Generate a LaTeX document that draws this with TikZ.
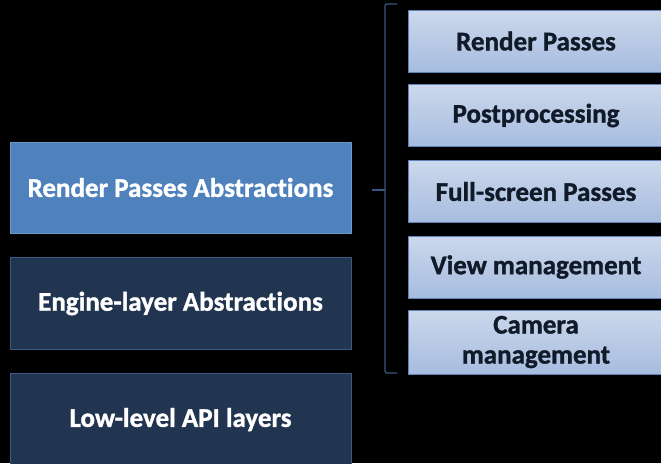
\documentclass[tikz,border=0pt]{standalone}
\usepackage{fontspec}
\setmainfont{Carlito}[Ligatures=NoCommon,BoldFeatures={FakeBold=1.2}]
\begin{document}
\begin{tikzpicture}[x=1pt,y=-1pt,
  every node/.style={font=\bfseries\fontsize{27}{30}\selectfont, align=center, inner sep=0pt},
  lightbox/.style={draw=lightedge, line width=1pt, fill=midblue, text=white, minimum width=341pt, minimum height=91pt},
  darkbox/.style={draw=darkedge, line width=1pt, fill=darkblue, text=white, minimum width=341pt, minimum height=92pt},
  subbox/.style={draw=subedge, line width=1pt, top color=subtop, bottom color=subbot, text=subtext, minimum width=256pt, minimum height=62pt},
  bracketline/.style={draw=bracketcol, line width=1.2pt, rounded corners=2pt}
]
\definecolor{midblue}{HTML}{4F81BD}
\definecolor{lightedge}{HTML}{7196C8}
\definecolor{darkblue}{HTML}{213550}
\definecolor{darkedge}{HTML}{3B5A82}
\definecolor{subtop}{HTML}{CCD8EC}
\definecolor{subbot}{HTML}{A6BCDF}
\definecolor{subedge}{HTML}{5F82B5}
\definecolor{subtext}{HTML}{111A28}
\definecolor{bracketcol}{HTML}{3A5680}
\useasboundingbox[fill=black] (0,0) rectangle (661,463);
\node[lightbox] (rpa) at (180.5,187.5) {Render Passes Abstractions};
\node[darkbox] (ela) at (180.5,303.5) {Engine-layer Abstractions};
\node[darkbox] (lla) at (180.5,419.5) {Low-level API layers};
\node[subbox] (rp) at (536,41) {Render Passes};
\node[subbox] (pp) at (536,115.5) {Postprocessing};
\node[subbox] (fs) at (536,191.5) {Full-screen Passes};
\node[subbox] (vm) at (536,267) {View management};
\node[subbox, minimum height=64pt] (cm) at (536,342) {Camera\\management};
\coordinate (btop) at (397,4);
\coordinate (bbot) at (397,373);
\coordinate (bmid) at (372,190);
\draw[bracketline] (btop) -- (385,4) -- (385,373) -- (bbot);
\draw[bracketline] (bmid) -- (385,190);
\end{tikzpicture}
\end{document}
